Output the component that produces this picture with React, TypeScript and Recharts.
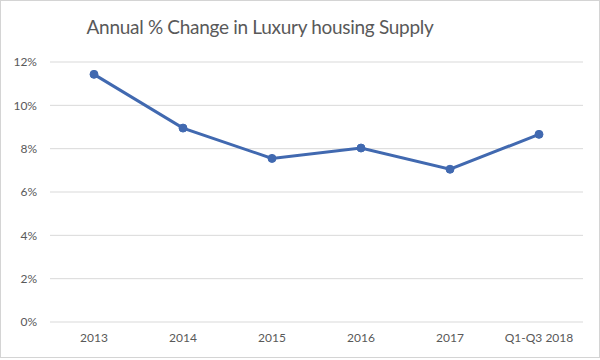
import { LineChart, Line, XAxis, YAxis, CartesianGrid } from 'recharts';

const periods = ['2013', '2014', '2015', '2016', '2017', 'Q1-Q3 2018'];
const supplyChange = [11.43, 8.95, 7.55, 8.03, 7.05, 8.66];
const yTicks = [0, 2, 4, 6, 8, 10, 12];

const data = periods.map((p, i) => ({ period: p, change: supplyChange[i] }));

const blue = '#4169b0';
const textGray = '#595959';
const gridGray = '#d9d9d9';
const font = 'Lato, Calibri, Arial, sans-serif';

export default function App() {
  return (
    <div style={{ position: 'absolute', left: 0, top: 0, width: 600, height: 360, background: '#fff', fontFamily: font }}>
      <div style={{ position: 'absolute', left: 0, top: 0, width: 598, height: 356, border: '1px solid #d4d4d4' }} />
      <div
        style={{
          position: 'absolute', left: 60, width: 400, top: 15, textAlign: 'center',
          fontSize: 19, color: textGray, letterSpacing: -0.3, lineHeight: '24px',
        }}
      >
        Annual % Change in Luxury housing Supply
      </div>
      <LineChart width={600} height={360} data={data} margin={{ top: 62, right: 17, left: 0, bottom: 0 }}>
        <CartesianGrid vertical={false} stroke={gridGray} strokeWidth={1} />
        <XAxis
          dataKey="period"
          axisLine={false}
          tickLine={false}
          height={38}
          tickMargin={5}
          padding={{ left: 44, right: 44 }}
          interval={0}
          tick={{ fontSize: 12, fill: textGray, fontFamily: font }}
        />
        <YAxis
          domain={[0, 12]}
          ticks={yTicks}
          width={50}
          axisLine={false}
          tickLine={false}
          tickMargin={7}
          tickFormatter={(v) => `${v}%`}
          tick={{ fontSize: 12, fill: textGray, fontFamily: font }}
        />
        <Line
          type="linear"
          dataKey="change"
          stroke={blue}
          strokeWidth={3}
          dot={{ r: 4, fill: blue, stroke: blue, strokeWidth: 1 }}
          isAnimationActive={false}
        />
      </LineChart>
    </div>
  );
}
